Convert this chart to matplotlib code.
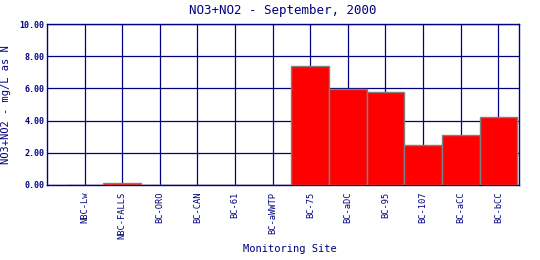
import matplotlib
matplotlib.use("Agg")
import matplotlib.pyplot as plt
import numpy as np

sites = ['NBC-Lw', 'NBC-FALLS', 'BC-ORO', 'BC-CAN', 'BC-61', 'BC-aWWTP',
         'BC-75', 'BC-aDC', 'BC-95', 'BC-107', 'BC-aCC', 'BC-bCC']
no3_no2 = [0.0, 0.12, 0.0, 0.0, 0.0, 0.0, 7.37, 5.98, 5.76, 2.46, 3.09, 4.20]
yticks = [0, 2, 4, 6, 8, 10]

navy = '#000080'
mono = 'DejaVu Sans Mono'

fig = plt.figure(figsize=(5.4, 2.6), dpi=100)
ax = fig.add_axes([47/540, 1-185/260, (519-47)/540, (185-24)/260])

x = np.arange(len(sites))
ax.set_axisbelow(True)
ax.grid(True, color=navy, linewidth=0.9)
ax.bar(x, no3_no2, width=1.0, color='#ff0000', edgecolor='#808080',
       linewidth=1.0, zorder=3)

ax.set_xlim(-1.0, 11.55)
ax.set_ylim(0, 10)
ax.set_xticks(x)
ax.set_xticklabels(sites, rotation=90, fontsize=6.3, family=mono, color=navy)
ax.set_yticks(yticks)
ax.set_yticklabels(['%.2f' % v for v in yticks], fontsize=6, family=mono,
                   fontweight='bold', color=navy)
ax.tick_params(axis='both', length=0)
ax.tick_params(axis='x', pad=5)
ax.tick_params(axis='y', pad=2)
for s in ax.spines.values():
    s.set_color(navy)
    s.set_linewidth(1.0)

ax.set_title('NO3+NO2 - September, 2000', fontsize=9, family=mono,
             color=navy, pad=7)
ax.set_ylabel('NO3+NO2 - mg/L as N', fontsize=7.5, family=mono, color=navy,
              labelpad=6)
fig.text(290/540, 1-249/260, 'Monitoring Site', fontsize=7.5, family=mono,
         color=navy, ha='center', va='center')

fig.savefig('out.png', dpi=100)
